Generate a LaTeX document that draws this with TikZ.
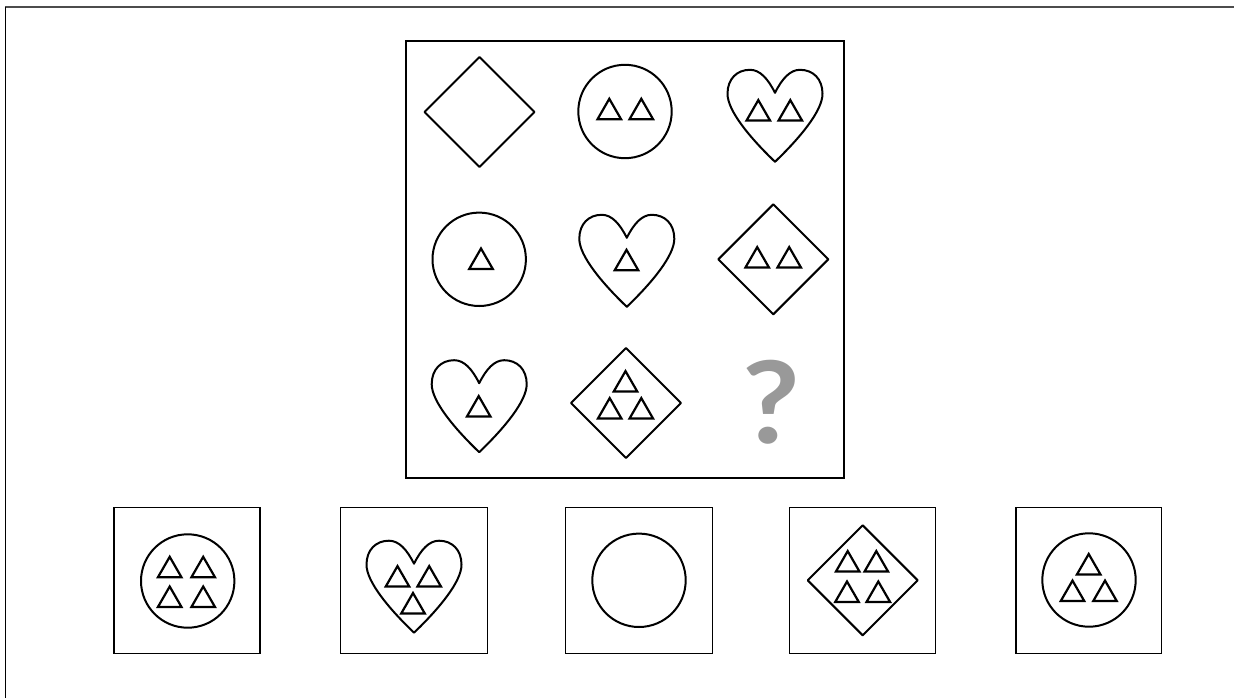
\documentclass[tikz,border=0pt]{standalone}
\usepackage{fontspec}
\newfontfamily\qfont{Lato}
\begin{document}
\begin{tikzpicture}[x=1pt,y=-1pt,
  shp/.style={line width=2pt,draw=black,line join=round},
  framebox/.style={line width=2pt,draw=black},
  optbox/.style={line width=1.5pt,draw=black},
  tri/.pic={\draw[line width=2.2pt,line join=miter] (-11.75,10.2) -- (11.75,10.2) -- (0,-10.2) -- cycle;},
  heartshape/.pic={\draw[shp] (0,-23) .. controls (7,-37) and (15,-46) .. (25,-46)
      .. controls (38,-46) and (47.5,-37) .. (47.5,-22)
      .. controls (47.5,-5) and (25,22) .. (0,46)
      .. controls (-25,22) and (-47.5,-5) .. (-47.5,-22)
      .. controls (-47.5,-37) and (-38,-46) .. (-25,-46)
      .. controls (-15,-46) and (-7,-37) .. (0,-23) -- cycle;},
  diamondshape/.pic={\draw[shp] (-55,0) -- (0,-55) -- (55,0) -- (0,55) -- cycle;},
  circleshape/.pic={\draw[shp] (0,0) circle[radius=46.7];}
]
\useasboundingbox (0,0) rectangle (1234,698);
% outer frame (partly visible)
\draw[line width=2pt,draw=black!70] (5,7.5) -- (1234,7.5);
\draw[line width=1.4pt] (5.5,7.5) -- (5.5,698);
% main matrix box
\draw[framebox] (406,41) rectangle (844,478);
% row 1
\pic at (479.5,112) {diamondshape};
\pic at (625,111.5) {circleshape};
\pic at (609.3,109) {tri};
\pic at (641.3,109) {tri};
\pic at (775,115.8) {heartshape};
\pic at (758.3,110.3) {tri};
\pic at (790.3,110.3) {tri};
% row 2
\pic at (479.2,259.3) {circleshape};
\pic at (481,258.7) {tri};
\pic at (626.8,260.8) {heartshape};
\pic at (626.5,260) {tri};
\pic at (773.3,259.3) {diamondshape};
\pic at (757.2,257.3) {tri};
\pic at (789.2,257.3) {tri};
% row 3
\pic at (479.2,406.2) {heartshape};
\pic at (478.7,406.3) {tri};
\pic at (626,403) {diamondshape};
\pic at (625.5,381.3) {tri};
\pic at (609.7,408.3) {tri};
\pic at (641.3,408.3) {tri};
\node[anchor=base,inner sep=0pt,text=black!40] (qm) at (771,443.8) {\qfont\fontsize{114}{114}\selectfont\bfseries\scalebox{1.1}[1]{?}};
% option boxes
\draw[optbox] (114,507.7) rectangle (260,653.3);
\pic at (187.7,581) {circleshape};
\pic at (169.7,567) {tri};
\pic at (203.2,567) {tri};
\pic at (169.7,596.7) {tri};
\pic at (203.2,596.7) {tri};

\draw[optbox] (340.7,507.7) rectangle (487.7,653.3);
\pic at (414,586.7) {heartshape};
\pic at (397.5,576.3) {tri};
\pic at (429.2,576.3) {tri};
\pic at (413,603.2) {tri};

\draw[optbox] (565.7,507.7) rectangle (712.7,653.3);
\pic at (639,580.3) {circleshape};

\draw[optbox] (789.3,507.7) rectangle (935.7,653.3);
\pic at (862.7,580.3) {diamondshape};
\pic at (847.7,561.3) {tri};
\pic at (876.3,561.3) {tri};
\pic at (847,591.7) {tri};
\pic at (878.3,591.7) {tri};

\draw[optbox] (1016,507.7) rectangle (1161.7,653.3);
\pic at (1089,580) {circleshape};
\pic at (1088.7,564.2) {tri};
\pic at (1072.5,590.8) {tri};
\pic at (1105,590.8) {tri};
\end{tikzpicture}
\end{document}
